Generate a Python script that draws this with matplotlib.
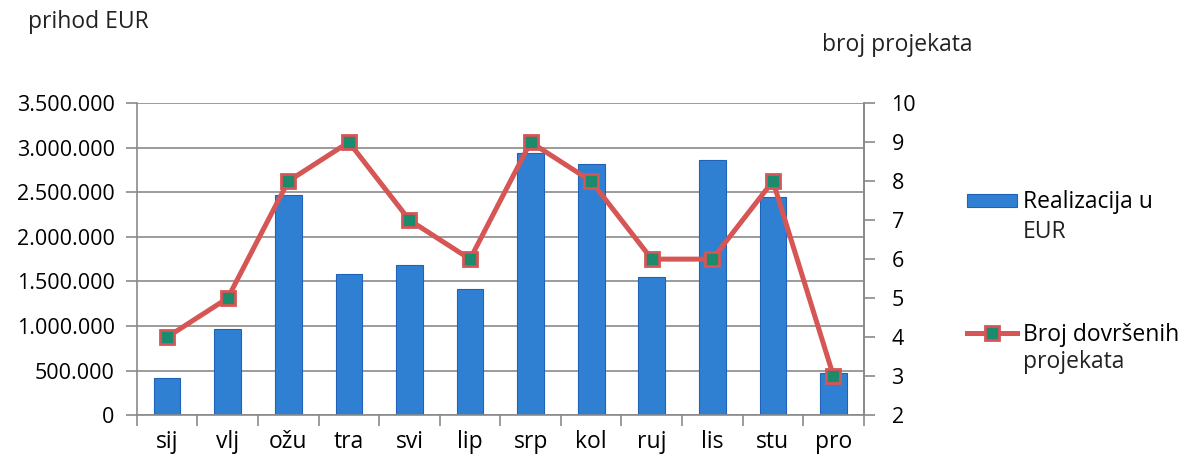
import numpy as np
import matplotlib.pyplot as plt
from matplotlib.ticker import FuncFormatter

plt.rcParams['font.family'] = ['Open Sans', 'DejaVu Sans']

months = ['sij', 'vlj', 'ožu', 'tra', 'svi', 'lip', 'srp', 'kol', 'ruj', 'lis', 'stu', 'pro']
revenue = [420000, 970000, 2470000, 1580000, 1680000, 1410000,
           2940000, 2820000, 1550000, 2860000, 2450000, 470000]
projects = [4, 5, 8, 9, 7, 6, 9, 8, 6, 6, 8, 3]

bar_color = '#2f80d3'
line_color = '#d65555'
marker_color = '#1c8a6c'
grey = '#8a8a8a'
fs = 15.5
fs_big = 16.5

fig = plt.figure(figsize=(11.8, 4.69), dpi=100)
ax = fig.add_axes([0.116, 0.115, 0.616, 0.665])
x = np.arange(len(months))

ax.bar(x, revenue, width=0.44, color=bar_color, edgecolor='#1f62b8', linewidth=0.8,
       zorder=2, label='Realizacija u')
ax.set_ylim(0, 3500000)
ax.set_yticks(np.arange(0, 3500001, 500000))
ax.yaxis.set_major_formatter(FuncFormatter(lambda v, p: f'{int(v):,}'.replace(',', '.')))
ax.set_xlim(-0.5, len(months) - 0.5)
ax.set_xticks(x)
ax.set_xticklabels(months)
ax.set_xticks(np.arange(-0.5, len(months), 1), minor=True)
ax.tick_params(axis='x', which='major', length=0, pad=11, labelsize=fs_big)
ax.tick_params(axis='x', which='minor', length=8, color=grey, width=1.2)
ax.tick_params(axis='y', length=8, color=grey, width=1.2, labelsize=fs, pad=8)
ax.grid(axis='y', color=grey, linewidth=1.2, zorder=0)
ax.set_axisbelow(True)
ax.spines['top'].set_visible(False)
for s in ['left', 'bottom', 'right']:
    ax.spines[s].set_color(grey)
    ax.spines[s].set_linewidth(1.2)

ax2 = ax.twinx()
ax2.plot(x, projects, color=line_color, linewidth=3.6, marker='s', markersize=10.5,
         markerfacecolor=marker_color, markeredgecolor=line_color, markeredgewidth=2,
         label='Broj dovršenih', zorder=3)
ax2.set_ylim(2, 10)
ax2.set_yticks(range(2, 11))
ax2.tick_params(axis='y', length=8, color=grey, width=1.2, labelsize=fs, pad=12)
for s in ['top', 'left', 'bottom']:
    ax2.spines[s].set_visible(False)
ax2.spines['right'].set_color(grey)
ax2.spines['right'].set_linewidth(1.2)

fig.text(0.024, 0.953, 'prihod EUR', fontsize=fs_big, va='center', ha='left', color='#222222')
fig.text(0.697, 0.904, 'broj projekata', fontsize=fs_big, va='center', ha='left', color='#222222')

h1, l1 = ax.get_legend_handles_labels()
h2, l2 = ax2.get_legend_handles_labels()
leg = fig.legend(h1 + h2, l1 + l2, loc='upper left', bbox_to_anchor=(0.812, 0.614),
                 frameon=False, fontsize=fs_big, handlelength=2.18, handleheight=0.5,
                 handletextpad=0.26, labelspacing=4.74, borderaxespad=0)
fig.text(0.867, 0.505, 'EUR', fontsize=fs_big, va='center', ha='left', color='#222222')
fig.text(0.867, 0.228, 'projekata', fontsize=fs_big, va='center', ha='left', color='#222222')

fig.savefig('out.png', dpi=100)
